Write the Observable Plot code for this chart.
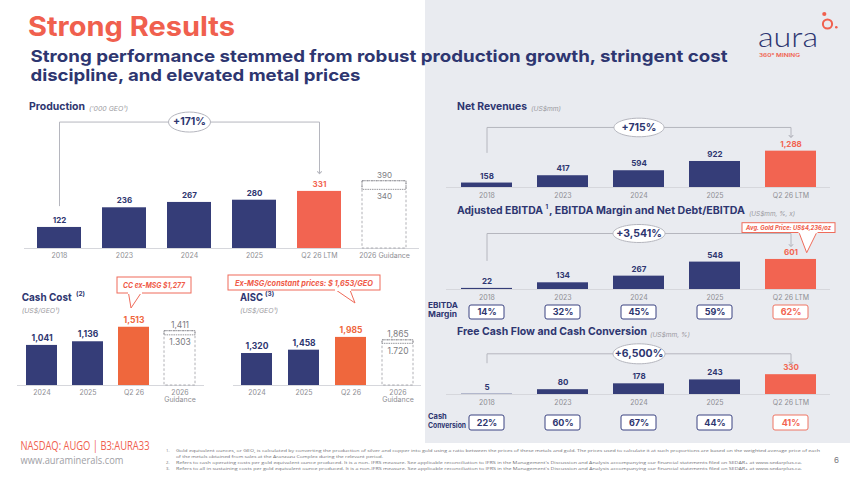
<!DOCTYPE html>
<html><head><meta charset="utf-8">
<script src="https://cdn.jsdelivr.net/npm/d3@7"></script>
<script src="https://cdn.jsdelivr.net/npm/@observablehq/plot@0.6"></script>
<style>
html,body{margin:0;padding:0;background:#fff;}
#slide{position:relative;width:850px;height:478px;overflow:hidden;font-family:Inter,"Open Sans",sans-serif;}
#slide svg{overflow:visible;}
.abs{position:absolute;}
</style></head><body><div id="slide"></div>
<script>
// ---------- data ----------
const prodCats = ["2018","2023","2024","2025","Q2 26 LTM","2026 Guidance"];
const prodValues = [122,236,267,280,331,null];
const prodGuidance = [340,390];
const prodGuidanceLabels = ["340","390"];
const costCats = ["2024","2025","Q2 26","2026 Guidance"];
const cashCostValues = [1041,1136,1513,null];
const cashCostGuidance = [1303,1411];
const cashCostGuidanceLabels = ["1.303","1,411"];
const aiscValues = [1320,1458,1985,null];
const aiscGuidance = [1720,1865];
const aiscGuidanceLabels = ["1.720","1,865"];
const finCats = ["2018","2023","2024","2025","Q2 26 LTM"];
const revenueValues = [158,417,594,922,1288];
const ebitdaValues = [22,134,267,548,601];
const ebitdaMargin = [14,32,45,59,62];
const fcfValues = [5,80,178,243,330];
const cashConversion = [22,60,67,44,41];
const growthProduction = "+171%";
const growthRevenue = "+715%";
const growthEbitda = "+3,541%";
const growthFcf = "+6,500%";

// ---------- styles ----------
const NAVY="#353d78", TXT="#2e3670", CORAL="#f26451", ORANGE="#ef673d", GRAY="#8e8e93", LINE="#b5b6be";
const slide = document.getElementById("slide");

function ellipseSymbol(rx, ry){
  const k = 0.5523;
  return {draw(c){
    c.moveTo(rx,0);
    c.bezierCurveTo(rx,ry*k,rx*k,ry,0,ry);
    c.bezierCurveTo(-rx*k,ry,-rx,ry*k,-rx,0);
    c.bezierCurveTo(-rx,-ry*k,-rx*k,-ry,0,-ry);
    c.bezierCurveTo(rx*k,-ry,rx,-ry*k,rx,0);
    c.closePath();
  }};
}

function place(node, left, top, w, h){
  const d = document.createElement("div");
  d.className = "abs";
  Object.assign(d.style, {left:left+"px", top:top+"px", width:w+"px", height:h+"px"});
  d.appendChild(node);
  slide.appendChild(d);
}

function barChart(cfg){
  const {cats, values, hiColor, guidance, guidanceLabels, bracket, tickFormat} = cfg;
  const fmt = d3.format(",");
  const rows = cats.map((c,i)=>({c, v: values[i]})).filter(d => d.v != null);
  const hi = rows[rows.length-1];
  const base = rows.slice(0,-1);
  const ls = cfg.labelSize || 8;
  const marks = [
    Plot.ruleY([0], {stroke:"#d6d7dc", strokeWidth:1}),
    Plot.barY(base, {x:"c", y:"v", fill:NAVY}),
    Plot.barY([hi], {x:"c", y:"v", fill:hiColor}),
    Plot.text(base, {x:"c", y:"v", text:d=>fmt(d.v), dy:-7, fill:TXT, fontWeight:700, fontSize:ls}),
    Plot.text([hi], {x:"c", y:"v", text:d=>fmt(d.v), dy:-7, fill:hiColor, fontWeight:700, fontSize:ls})
  ];
  if (guidance){
    const g = [{c: cats[cats.length-1], lo: guidance[0], hi: guidance[1]}];
    marks.push(
      Plot.barY(g, {x:"c", y1:0, y2:"hi", fill:"white", stroke:"#9c9ca2", strokeWidth:0.8, strokeDasharray:"2.5,2"}),
      Plot.barY(g, {x:"c", y1:"lo", y2:"hi", fill:"none", stroke:"#8a8a90", strokeWidth:0.9, strokeDasharray:"1.5,0.8"}),
      Plot.text(g, {x:"c", y:"hi", text:()=>guidanceLabels[1], dy:-6, fill:"#7c7c82", fontSize:ls}),
      Plot.text(g, {x:"c", y:"lo", text:()=>guidanceLabels[0], dy:7, fill:"#7c7c82", fontSize:ls})
    );
  }
  if (bracket){
    const b = bracket;
    const pts = [{c:cats[0], y:b.start},{c:cats[0], y:b.top},{c:b.to, y:b.top},{c:b.to, y:b.end}];
    const lab = [{c:"2024", y:b.top}];
    marks.push(
      Plot.line(pts, {x:"c", y:"y", stroke:LINE, strokeWidth:1, markerEnd:"arrow"}),
      Plot.dot(lab, {x:"c", y:"y", symbol: ellipseSymbol(b.rx, b.ry), r:5, fill:"white", stroke:LINE, strokeWidth:1}),
      Plot.text(lab, {x:"c", y:"y", text:()=>b.label, fill:TXT, fontWeight:700, fontSize:b.size || 10.5})
    );
  }
  return Plot.plot({
    width: cfg.w, height: cfg.h,
    marginTop: cfg.m[0], marginRight: cfg.m[1], marginBottom: cfg.m[2], marginLeft: cfg.m[3],
    x: {domain: cats, paddingInner: cfg.pad || 0.33, paddingOuter: (cfg.pad || 0.33)/2, tickSize:0, tickPadding: cfg.tp || 5, label:null, tickFormat: tickFormat || (d=>d)},
    y: {domain: [0, cfg.yMax], axis:null},
    style: {background:"transparent", color:GRAY, fontFamily:"Inter, 'Open Sans', sans-serif", fontSize:"7px", overflow:"visible"},
    marks
  });
}

function boxRow(cats, values, w, h, ml, mr){
  const rows = cats.map((c,i)=>({c, v: values[i]}));
  const base = rows.slice(0,-1), last = rows.slice(-1);
  return Plot.plot({
    width:w, height:h, marginTop:0, marginBottom:0, marginLeft:ml, marginRight:mr,
    x:{domain:cats, axis:null, paddingInner:0.54, paddingOuter:0.27},
    y:{domain:[0,1], axis:null},
    style:{background:"transparent", fontFamily:"Inter, 'Open Sans', sans-serif", overflow:"visible"},
    marks:[
      Plot.barY(base, {x:"c", y1:0, y2:1, fill:"white", stroke:"#3b4381", strokeWidth:1, rx:2}),
      Plot.barY(last, {x:"c", y1:0, y2:1, fill:"white", stroke:"#ef7463", strokeWidth:1, rx:2}),
      Plot.text(base, {x:"c", y:()=>0.5, text:d=>d.v+"%", fill:TXT, fontWeight:700, fontSize:9}),
      Plot.text(last, {x:"c", y:()=>0.5, text:d=>d.v+"%", fill:CORAL, fontWeight:700, fontSize:9})
    ]
  });
}

// ---------- static slide layer ----------
const bg = `
<svg class="abs" style="left:0;top:0" width="850" height="478" font-family="Inter, 'Open Sans', sans-serif">
<rect x="425" y="0" width="425" height="443" fill="#e9ebf0"/>
<text x="28" y="36" font-size="27" font-weight="700" fill="#f0604e" textLength="207" lengthAdjust="spacingAndGlyphs">Strong Results</text>
<text x="30.5" y="61.5" font-size="16.5" font-weight="700" fill="${TXT}" textLength="697" lengthAdjust="spacingAndGlyphs">Strong performance stemmed from robust production growth, stringent cost</text>
<text x="30.5" y="80.5" font-size="16.5" font-weight="700" fill="${TXT}" textLength="330" lengthAdjust="spacingAndGlyphs">discipline, and elevated metal prices</text>

<text x="758" y="47" font-size="27" font-weight="300" fill="${TXT}" font-family="Lato, Inter, sans-serif" textLength="60" lengthAdjust="spacingAndGlyphs">aura</text>
<circle cx="827.5" cy="24" r="4.6" fill="none" stroke="#f0604e" stroke-width="2"/>
<circle cx="824.3" cy="14" r="2.1" fill="#f0604e"/>
<circle cx="836.3" cy="27.3" r="1.3" fill="#f0604e"/>
<text x="759" y="57" font-size="5" font-weight="600" fill="#f0604e" textLength="41" lengthAdjust="spacingAndGlyphs">360° MINING</text>

<text x="29" y="110" font-size="10.5" font-weight="700" fill="${TXT}" textLength="56" lengthAdjust="spacingAndGlyphs">Production</text>
<text x="89" y="111" font-size="6.5" font-style="italic" fill="#9a9aa0" textLength="39" lengthAdjust="spacingAndGlyphs">('000 GEO¹)</text>

<text x="21.7" y="301.3" font-size="11" font-weight="700" fill="${TXT}" textLength="50" lengthAdjust="spacingAndGlyphs">Cash Cost</text>
<text x="76" y="295.5" font-size="6.5" font-weight="700" fill="${TXT}">(2)</text>
<text x="21.7" y="313" font-size="6.8" font-style="italic" fill="#9a9aa0" textLength="38" lengthAdjust="spacingAndGlyphs">(US$/GEO¹)</text>

<text x="240" y="301.3" font-size="11" font-weight="700" fill="${TXT}" textLength="23" lengthAdjust="spacingAndGlyphs">AISC</text>
<text x="265" y="295.5" font-size="6.5" font-weight="700" fill="${TXT}">(3)</text>
<text x="240" y="313" font-size="6.8" font-style="italic" fill="#9a9aa0" textLength="38" lengthAdjust="spacingAndGlyphs">(US$/GEO¹)</text>

<rect x="117" y="277" width="74" height="16" fill="white" stroke="#ef6b5a" stroke-width="1"/>
<polygon points="128.5,293 131,308 141,293" fill="white" stroke="#ef6b5a" stroke-width="1"/>
<rect x="128" y="291.5" width="14" height="2.5" fill="white"/>
<text x="154" y="288" font-size="8" font-weight="700" font-style="italic" fill="#ef5b49" text-anchor="middle" textLength="62" lengthAdjust="spacingAndGlyphs">CC ex-MSG $1,277</text>

<rect x="228" y="275" width="152" height="15" fill="white" stroke="#ef6b5a" stroke-width="1"/>
<polygon points="336,290 355,303 350,290" fill="white" stroke="#ef6b5a" stroke-width="1"/>
<rect x="335" y="288.5" width="16" height="2.5" fill="white"/>
<text x="304" y="285.5" font-size="8" font-weight="700" font-style="italic" fill="#ef5b49" text-anchor="middle" textLength="138" lengthAdjust="spacingAndGlyphs">Ex-MSG/constant prices: $ 1,653/GEO</text>

<text x="457" y="110" font-size="10.5" font-weight="700" fill="${TXT}" textLength="70" lengthAdjust="spacingAndGlyphs">Net Revenues</text>
<text x="531" y="111" font-size="6.5" font-style="italic" fill="#9a9aa0" textLength="30" lengthAdjust="spacingAndGlyphs">(US$mm)</text>

<text x="457" y="214" font-size="10" font-weight="700" fill="${TXT}" textLength="86" lengthAdjust="spacingAndGlyphs">Adjusted EBITDA</text>
<text x="545.5" y="209" font-size="6" font-weight="700" fill="${TXT}">1</text>
<text x="549" y="214" font-size="10" font-weight="700" fill="${TXT}" textLength="196" lengthAdjust="spacingAndGlyphs">, EBITDA Margin and Net Debt/EBITDA</text>
<text x="749" y="215.5" font-size="6.5" font-style="italic" fill="#9a9aa0" textLength="46" lengthAdjust="spacingAndGlyphs">(US$mm, %, x)</text>

<rect x="742" y="222.7" width="93" height="9.8" fill="white" stroke="#ef6b5a" stroke-width="1"/>
<polygon points="799,232.5 806.7,252.7 816.7,232.5" fill="white" stroke="#ef6b5a" stroke-width="1"/>
<rect x="798.5" y="231" width="19" height="2.2" fill="white"/>
<text x="788.5" y="230" font-size="6" font-weight="700" font-style="italic" fill="#ef5b49" text-anchor="middle" textLength="85" lengthAdjust="spacingAndGlyphs">Avg. Gold Price: US$4,236/oz</text>

<text x="428" y="307.5" font-size="7.5" font-weight="700" fill="${TXT}" textLength="30" lengthAdjust="spacingAndGlyphs">EBITDA</text>
<text x="428" y="317" font-size="7.5" font-weight="700" fill="${TXT}" textLength="29" lengthAdjust="spacingAndGlyphs">Margin</text>

<text x="457" y="335" font-size="11" font-weight="700" fill="${TXT}" textLength="190" lengthAdjust="spacingAndGlyphs">Free Cash Flow and Cash Conversion</text>
<text x="650" y="337" font-size="6.5" font-style="italic" fill="#9a9aa0" textLength="40" lengthAdjust="spacingAndGlyphs">(US$mm, %)</text>

<text x="428" y="419" font-size="7.5" font-weight="700" fill="${TXT}">Cash</text>
<text x="428" y="427.5" font-size="7.5" font-weight="700" fill="${TXT}" textLength="38" lengthAdjust="spacingAndGlyphs">Conversion</text>

<text x="20.5" y="450" font-size="12" fill="#f0604e" font-family="'Liberation Sans Narrow', 'Open Sans', sans-serif" textLength="129" lengthAdjust="spacingAndGlyphs">NASDAQ: AUGO | B3:AURA33</text>
<text x="20.5" y="464" font-size="11.5" fill="#a0a0a5" font-family="'Open Sans', sans-serif" textLength="103" lengthAdjust="spacingAndGlyphs">www.auraminerals.com</text>

<g font-size="4.2" fill="#6f6f75" font-family="'Open Sans', sans-serif">
<text x="166" y="451.8">1.</text>
<text x="176" y="451.8" textLength="644" lengthAdjust="spacingAndGlyphs">Gold equivalent ounces, or GEO, is calculated by converting the production of silver and copper into gold using a ratio between the prices of these metals and gold. The prices used to calculate it at such proportions are based on the weighted average price of each</text>
<text x="176" y="457.8" textLength="207" lengthAdjust="spacingAndGlyphs">of the metals obtained from sales at the Aranzazu Complex during the relevant period.</text>
<text x="166" y="464">2.</text>
<text x="176" y="464" textLength="626" lengthAdjust="spacingAndGlyphs">Refers to cash operating costs per gold equivalent ounce produced. It is a non- IFRS measure. See applicable reconciliation to IFRS in the Management's Discussion and Analysis accompanying our financial statements filed on SEDAR+ at www.sedarplus.ca.</text>
<text x="166" y="470">3.</text>
<text x="176" y="470" textLength="626" lengthAdjust="spacingAndGlyphs">Refers to all in sustaining costs per gold equivalent ounce produced. It is a non-IFRS measure. See applicable reconciliation to IFRS in the Management's Discussion and Analysis accompanying our financial statements filed on SEDAR+ at www.sedarplus.ca.</text>
</g>
<text x="834" y="463" font-size="8" fill="#7a7a80">6</text>
</svg>`;
slide.insertAdjacentHTML("beforeend", bg);

// ---------- charts ----------
place(barChart({
  cats: prodCats, values: prodValues, hiColor: CORAL,
  guidance: prodGuidance, guidanceLabels: prodGuidanceLabels,
  bracket: {start:248, top:733, end:440, to:"Q2 26 LTM", label:growthProduction, rx:21, ry:10},
  w:425, h:175, m:[15,6,22,24], yMax:800, tp:5
}), 0, 95, 425, 175);

place(barChart({
  cats: costCats, values: cashCostValues, hiColor: ORANGE,
  guidance: cashCostGuidance, guidanceLabels: cashCostGuidanceLabels,
  tickFormat: d => d === "2026 Guidance" ? "2026\nGuidance" : d,
  w:215, h:115, m:[8,11,30,17], yMax:2000, labelSize:8.5
}), 0, 300, 215, 115);

place(barChart({
  cats: costCats, values: aiscValues, hiColor: ORANGE,
  guidance: aiscGuidance, guidanceLabels: aiscGuidanceLabels,
  tickFormat: d => d === "2026 Guidance" ? "2026\nGuidance" : d,
  w:210, h:115, m:[22,4,30,18], yMax:2600, labelSize:8.5
}), 215, 300, 210, 115);

place(barChart({
  cats: finCats, values: revenueValues, hiColor: CORAL,
  bracket: {start:1241, top:2128, end:1809, to:"Q2 26 LTM", label:growthRevenue, rx:25, ry:9.3},
  w:425, h:90, m:[5,20,18,21], yMax:2375, pad:0.335, tp:5.5
}), 425, 115, 425, 90);

place(barChart({
  cats: finCats, values: ebitdaValues, hiColor: CORAL,
  bracket: {start:580, top:1120, end:880, to:"Q2 26 LTM", label:growthEbitda, rx:26, ry:9},
  w:425, h:80, m:[4,20,16,21], yMax:1200, pad:0.335, tp:6
}), 425, 225, 425, 80);

place(boxRow(finCats, ebitdaMargin, 425, 14, 21, 20), 425, 305, 425, 14);

place(barChart({
  cats: finCats, values: fcfValues, hiColor: CORAL,
  bracket: {start:528, top:678, end:522, to:"Q2 26 LTM", label:growthFcf, rx:26, ry:10},
  w:425, h:70, m:[4,20,16,21], yMax:833, pad:0.335, tp:6
}), 425, 340, 425, 70);

place(boxRow(finCats, cashConversion, 425, 15, 21, 20), 425, 415, 425, 15);
</script>
</body></html>
